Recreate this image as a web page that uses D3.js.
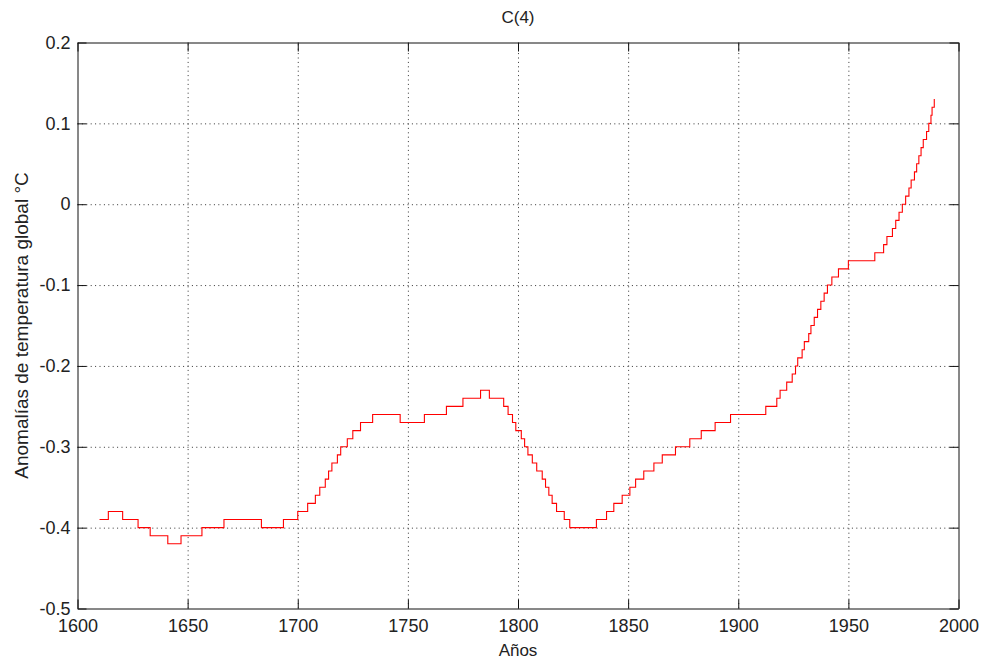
<!DOCTYPE html>
<html>
<head>
<meta charset="utf-8">
<script src="https://cdn.jsdelivr.net/npm/d3@7"></script>
<style>
  html, body { margin: 0; padding: 0; background: #ffffff; }
  svg { display: block; }
  text { font-family: "Liberation Sans", Arial, Helvetica, sans-serif; fill: #222; }
</style>
</head>
<body>
<script>
// ---- data ----
const title = "C(4)";
const xLabel = "Años";
const yLabel = "Anomalías de temperatura global °C";
const xTicks = [1600, 1650, 1700, 1750, 1800, 1850, 1900, 1950, 2000];
const yTicks = [-0.5, -0.4, -0.3, -0.2, -0.1, 0, 0.1, 0.2];
// step change points: year at which the series takes the given value
const stepYears = [1610, 1614, 1620.5, 1627.5, 1633, 1641, 1647, 1656.5, 1666.5, 1683.5, 1693.5,
  1700, 1704.5, 1708, 1710, 1712.5, 1714, 1715.5, 1718, 1719.5, 1722.5, 1725, 1728.5, 1734,
  1746.5, 1757.5, 1767.5, 1775, 1783, 1787,
  1793.5, 1795.5, 1797.5, 1799, 1801.5, 1803, 1804.5, 1806.5, 1808.5, 1811, 1812.5, 1814, 1815.5, 1817.5, 1821, 1823.5,
  1835.6, 1840.2, 1843.5, 1847.3, 1850.8, 1853.4, 1857.1, 1861.7, 1865.5, 1871.5, 1878, 1883.2,
  1889.5, 1896.5, 1912.5, 1917.5, 1919, 1922, 1924.5, 1926, 1927, 1929, 1930, 1932, 1933, 1934.5,
  1936, 1937.5, 1939, 1940.5, 1942.5, 1945.5, 1950, 1962, 1966, 1967.5, 1970, 1971.5, 1973,
  1974.5, 1976, 1977.5, 1978.5, 1980, 1981, 1982, 1983, 1984, 1985.5, 1986.5, 1987.5, 1988, 1989];
const stepValues = [-0.39, -0.38, -0.39, -0.40, -0.41, -0.42, -0.41, -0.40, -0.39, -0.40, -0.39,
  -0.38, -0.37, -0.36, -0.35, -0.34, -0.33, -0.32, -0.31, -0.30, -0.29, -0.28, -0.27, -0.26,
  -0.27, -0.26, -0.25, -0.24, -0.23, -0.24,
  -0.25, -0.26, -0.27, -0.28, -0.29, -0.30, -0.31, -0.32, -0.33, -0.34, -0.35, -0.36, -0.37, -0.38, -0.39, -0.40,
  -0.39, -0.38, -0.37, -0.36, -0.35, -0.34, -0.33, -0.32, -0.31, -0.30, -0.29, -0.28,
  -0.27, -0.26, -0.25, -0.24, -0.23, -0.22, -0.21, -0.20, -0.19, -0.18, -0.17, -0.16, -0.15, -0.14,
  -0.13, -0.12, -0.11, -0.10, -0.09, -0.08, -0.07, -0.06, -0.05, -0.04, -0.03, -0.02, -0.01,
  0.00, 0.01, 0.02, 0.03, 0.04, 0.05, 0.06, 0.07, 0.08, 0.09, 0.10, 0.11, 0.12, 0.13];

// ---- layout ----
const W = 985, H = 666;
const M = { left: 77.5, right: 985 - 958.5, top: 42.5, bottom: 666 - 608.5 };
const iw = W - M.left - M.right, ih = H - M.top - M.bottom;
const tickLen = 9;

const svg = d3.select("body").append("svg").attr("width", W).attr("height", H);
const g = svg.append("g").attr("transform", `translate(${M.left},${M.top})`);

const x = d3.scaleLinear().domain([1600, 2000]).range([0, iw]);
const y = d3.scaleLinear().domain([-0.5, 0.2]).range([ih, 0]);

const fmtY = d => (Math.abs(d) < 1e-9 ? "0" : String(+d.toFixed(1)));

// grid (dotted)
const gridStyle = sel => {
  sel.select(".domain").remove();
  sel.selectAll(".tick text").remove();
  sel.selectAll(".tick line").attr("stroke", "#333").attr("stroke-width", 1)
    .attr("stroke-dasharray", "1,3.4");
};
g.append("g").attr("transform", `translate(0,${ih})`)
  .call(d3.axisBottom(x).tickValues(xTicks.slice(1, -1)).tickSize(-ih).tickFormat(""))
  .call(gridStyle);
g.append("g")
  .call(d3.axisLeft(y).tickValues(yTicks.slice(1, -1)).tickSize(-iw).tickFormat(""))
  .call(gridStyle);

// data line
const pts = stepYears.map((yr, i) => [yr, stepValues[i]]);
const line = d3.line().x(d => x(d[0])).y(d => y(d[1])).curve(d3.curveStepAfter);
g.append("path").datum(pts)
  .attr("fill", "none").attr("stroke", "#ff0000").attr("stroke-width", 1.1)
  .attr("d", line);

// axes with inward ticks on all four sides
const axStyle = sel => {
  sel.select(".domain").attr("stroke", "#111").attr("stroke-width", 1);
  sel.selectAll(".tick line").attr("stroke", "#111").attr("stroke-width", 1);
  sel.selectAll(".tick text").attr("font-size", 18)
    .attr("font-family", "Liberation Sans, Arial, sans-serif").attr("fill", "#222");
};
g.append("g").attr("transform", `translate(0,${ih})`)
  .call(d3.axisBottom(x).tickValues(xTicks).tickSizeInner(-tickLen).tickSizeOuter(0)
    .tickPadding(10.5).tickFormat(d3.format("d")))
  .call(axStyle);
g.append("g")
  .call(d3.axisLeft(y).tickValues(yTicks).tickSizeInner(-tickLen).tickSizeOuter(0)
    .tickPadding(7).tickFormat(fmtY))
  .call(axStyle);
g.append("g")
  .call(d3.axisTop(x).tickValues(xTicks).tickSizeInner(-tickLen).tickSizeOuter(0).tickFormat(""))
  .call(axStyle);
g.append("g").attr("transform", `translate(${iw},0)`)
  .call(d3.axisRight(y).tickValues(yTicks).tickSizeInner(-tickLen).tickSizeOuter(0).tickFormat(""))
  .call(axStyle);

// labels
svg.append("text").attr("x", M.left + iw / 2).attr("y", 23)
  .attr("text-anchor", "middle").attr("font-size", 17).text(title);
svg.append("text").attr("x", M.left + iw / 2).attr("y", 656)
  .attr("text-anchor", "middle").attr("font-size", 17).text(xLabel);
svg.append("text")
  .attr("transform", `translate(28,${M.top + ih / 2}) rotate(-90)`)
  .attr("text-anchor", "middle").attr("font-size", 19).text(yLabel);
</script>
</body>
</html>
